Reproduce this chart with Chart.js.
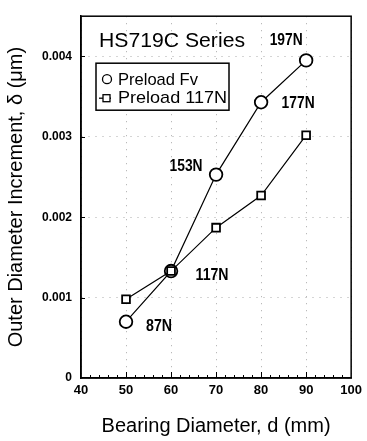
<!DOCTYPE html>
<html>
<head>
<meta charset="utf-8">
<script src="https://cdn.jsdelivr.net/npm/chart.js@4.4.1/dist/chart.umd.min.js"></script>
<style>
  html, body { margin: 0; padding: 0; background: #fff; }
  #wrap { width: 367px; height: 441px; }
</style>
</head>
<body>
<div id="wrap"><canvas id="chart" width="367" height="441"></canvas></div>
<script>
// values
const bearingDiameters = [50, 60, 70, 80, 90];
const preloadFv = [0.0007, 0.00133, 0.00253, 0.00343, 0.00395];
const preload117 = [0.00098, 0.00133, 0.00187, 0.00227, 0.00302];
const fvLabels = ['87N', '117N', '153N', '177N', '197N'];
const yTickValues = [0, 0.001, 0.002, 0.003, 0.004];
const seriesNames = ['Preload Fv', 'Preload 117N'];
const chartTitle = 'HS719C Series';

const FONT = "'Liberation Sans', Arial, Helvetica, sans-serif";

// squeeze or stretch text horizontally to a given width
function fitText(ctx, text, cx, cy, font, width, align) {
    ctx.save();
    ctx.font = font;
    const w = ctx.measureText(text).width;
    const sx = width ? width / w : 1;
    ctx.translate(cx, cy);
    ctx.scale(sx, 1);
    ctx.textAlign = align || 'center';
    ctx.textBaseline = 'middle';
    ctx.fillStyle = '#000';
    ctx.fillText(text, 0, 0);
    ctx.restore();
}

const extras = {
    id: 'extras',
    afterDatasetsDraw(chart) {
        const ctx = chart.ctx;
        const a = chart.chartArea;
        const x = chart.scales.x;
        const y = chart.scales.y;

        // frame
        ctx.save();
        ctx.strokeStyle = '#000';
        ctx.lineWidth = 1.5;
        ctx.strokeRect(a.left, a.top, a.right - a.left, a.bottom - a.top);

        // inward ticks on the x axis
        ctx.lineWidth = 1;
        for (let v = 42; v < 100; v += 2) {
            const px = Math.round(x.getPixelForValue(v)) + 0.5;
            const len = v % 10 === 0 ? 6 : 3;
            ctx.beginPath();
            ctx.moveTo(px, a.bottom);
            ctx.lineTo(px, a.bottom - len);
            ctx.stroke();
        }
        // inward ticks on the y axis
        yTickValues.slice(1).forEach(v => {
            const py = Math.round(y.getPixelForValue(v)) + 0.5;
            ctx.beginPath();
            ctx.moveTo(a.left, py);
            ctx.lineTo(a.left + 4, py);
            ctx.stroke();
        });
        ctx.restore();

        // title
        fitText(ctx, chartTitle, a.left + 91, a.top + 25, '20px ' + FONT, 146);

        // legend box
        const lx = a.left + 15, ly = a.top + 47;
        ctx.save();
        ctx.fillStyle = '#fff';
        ctx.fillRect(lx, ly, 133, 47);
        ctx.strokeStyle = '#000';
        ctx.lineWidth = 1.5;
        ctx.strokeRect(lx, ly, 133, 47);
        ctx.lineWidth = 1.3;
        ctx.beginPath();
        ctx.arc(lx + 11, ly + 16, 4.5, 0, Math.PI * 2);
        ctx.stroke();
        ctx.beginPath();
        ctx.moveTo(lx + 3, ly + 35);
        ctx.lineTo(lx + 15, ly + 35);
        ctx.stroke();
        ctx.fillRect(lx + 7, ly + 31.5, 7, 7);
        ctx.strokeRect(lx + 7, ly + 31.5, 7, 7);
        ctx.restore();
        fitText(ctx, seriesNames[0], lx + 22, ly + 17, '17px ' + FONT, 80, 'left');
        fitText(ctx, seriesNames[1], lx + 22, ly + 35, '17px ' + FONT, 109, 'left');

        // preload labels next to the Fv points
        const offsets = [[33, 5], [41, 5], [-30, -8], [37, 1], [-20, -20]];
        chart.getDatasetMeta(0).data.forEach((pt, i) => {
            const t = fvLabels[i];
            fitText(ctx, t, pt.x + offsets[i][0], pt.y + offsets[i][1],
                'bold 16px ' + FONT, t.length === 3 ? 26 : 33);
        });
    }
};

const ctx = document.getElementById('chart').getContext('2d');
new Chart(ctx, {
    type: 'scatter',
    data: {
        datasets: [
            {
                label: seriesNames[0],
                data: bearingDiameters.map((d, i) => ({ x: d, y: preloadFv[i] })),
                showLine: true,
                borderColor: '#000',
                borderWidth: 1.2,
                pointStyle: 'circle',
                pointRadius: 6.3,
                pointBorderWidth: 1.8,
                pointBackgroundColor: '#fff',
                pointBorderColor: '#000',
                order: 2
            },
            {
                label: seriesNames[1],
                data: bearingDiameters.map((d, i) => ({ x: d, y: preload117[i] })),
                showLine: true,
                borderColor: '#000',
                borderWidth: 1.2,
                pointStyle: 'rect',
                pointRadius: 5.5,
                pointBorderWidth: 1.8,
                pointBackgroundColor: '#fff',
                pointBorderColor: '#000',
                order: 1
            }
        ]
    },
    options: {
        responsive: false,
        animation: false,
        layout: { padding: { top: 4, right: 10, left: 0, bottom: 0 } },
        plugins: {
            legend: { display: false },
            tooltip: { enabled: false }
        },
        scales: {
            x: {
                type: 'linear',
                min: 40,
                max: 100,
                afterFit: s => { s.height = 63; },
                ticks: {
                    stepSize: 10,
                    color: '#000',
                    padding: 5,
                    font: { family: FONT, size: 13, weight: 'bold' }
                },
                grid: {
                    color: '#aaa',
                    drawTicks: false,
                    tickLength: 0
                },
                border: { display: true, color: '#000', width: 1.5, dash: [1, 6] },
                title: {
                    display: true,
                    text: 'Bearing Diameter, d (mm)',
                    color: '#000',
                    padding: { top: 0, bottom: 3 },
                    font: { family: FONT, size: 20 }
                }
            },
            y: {
                type: 'linear',
                min: 0,
                max: 0.0045,
                afterFit: s => { s.width = 81; },
                afterBuildTicks: s => { s.ticks = yTickValues.map(v => ({ value: v })); },
                ticks: {
                    color: '#000',
                    padding: 9,
                    font: { family: FONT, size: 12, weight: 'bold' },
                    callback: v => (v === 0 ? '0' : v.toFixed(3))
                },
                grid: {
                    color: '#aaa',
                    drawTicks: false,
                    tickLength: 0
                },
                border: { display: true, color: '#000', width: 1.5, dash: [1, 6] },
                title: {
                    display: true,
                    text: 'Outer Diameter Increment, δ (μm)',
                    color: '#000',
                    padding: { top: 4, bottom: 0 },
                    font: { family: FONT, size: 20 }
                }
            }
        }
    },
    plugins: [extras]
});
</script>
</body>
</html>
